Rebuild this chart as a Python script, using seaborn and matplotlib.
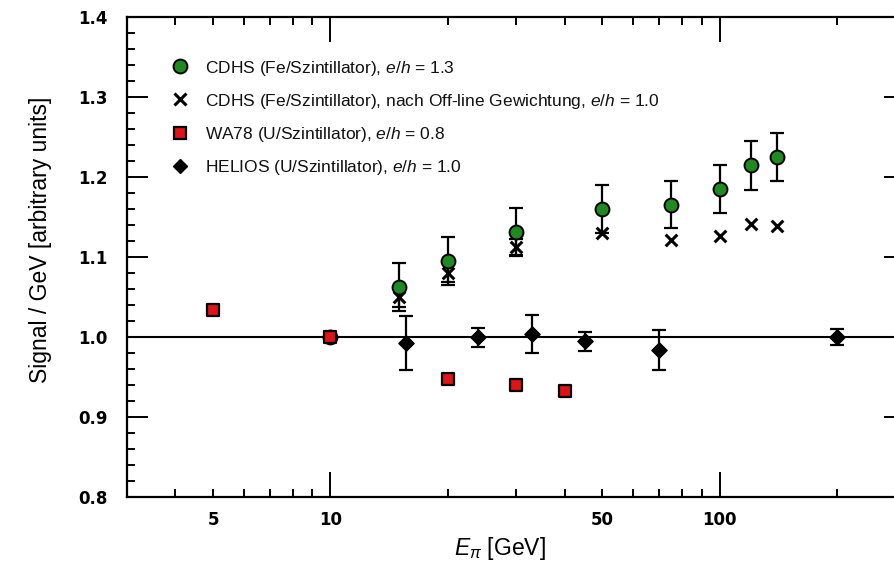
import numpy as np
import pandas as pd
import matplotlib
matplotlib.use("Agg")
import matplotlib.pyplot as plt
import seaborn as sns
from matplotlib.ticker import FixedLocator, FixedFormatter
from matplotlib.lines import Line2D

# ---------------- data ----------------
cdhs_E = [10, 15, 20, 30, 50, 75, 100, 120, 140]
cdhs_S = [1.000, 1.063, 1.096, 1.132, 1.160, 1.166, 1.186, 1.215, 1.226]
cdhs_err = [0.0, 0.030, 0.030, 0.030, 0.030, 0.029, 0.030, 0.031, 0.030]

cdhsw_E = [15, 20, 30, 50, 75, 100, 120, 140]
cdhsw_S = [1.050, 1.081, 1.113, 1.131, 1.122, 1.127, 1.142, 1.139]
cdhsw_err = [0.012, 0.012, 0.010, 0.0, 0.0, 0.0, 0.0, 0.0]

wa78_E = [5, 10, 20, 30, 40]
wa78_S = [1.034, 1.000, 0.948, 0.941, 0.933]

helios_E = [15.6, 24, 33, 45, 70, 200]
helios_S = [0.993, 1.000, 1.004, 0.995, 0.984, 1.000]
helios_err = [0.034, 0.012, 0.024, 0.012, 0.025, 0.010]

labels = [
    r"CDHS (Fe/Szintillator), $e/h$ = 1.3",
    r"CDHS (Fe/Szintillator), nach Off-line Gewichtung, $e/h$ = 1.0",
    r"WA78 (U/Szintillator), $e/h$ = 0.8",
    r"HELIOS (U/Szintillator), $e/h$ = 1.0",
]
xtick_vals = [5, 10, 50, 100]
ytick_vals = [0.8, 0.9, 1.0, 1.1, 1.2, 1.3, 1.4]

GREEN = "#1f8a1f"
RED = "#e01414"

# ---------------- style ----------------
sns.set_theme(style="ticks")
plt.rcParams["font.family"] = ["Liberation Sans", "DejaVu Sans"]
plt.rcParams["mathtext.fontset"] = "custom"
plt.rcParams["mathtext.rm"] = "Liberation Sans"
plt.rcParams["mathtext.it"] = "Liberation Sans:italic"

W, H = 895, 565
fig = plt.figure(figsize=(W / 100, H / 100), dpi=100)
left_px, right_px, top_px, bot_px = 126.7, 905.5, 17.3, 497.3
ax = fig.add_axes([left_px / W, 1 - bot_px / H, (right_px - left_px) / W, (bot_px - top_px) / H])

ax.set_xscale("log")
ax.set_xlim(3, 300)
ax.set_ylim(0.8, 1.4)

# reference line at 1.0
ax.axhline(1.0, color="black", lw=1.5, zorder=1)

# error bars
df_c = pd.DataFrame({"E": cdhs_E, "S": cdhs_S, "err": cdhs_err})
df_c_e = df_c[df_c["err"] > 0]
ax.errorbar(df_c_e["E"], df_c_e["S"], yerr=df_c_e["err"], fmt="none",
            ecolor="black", elinewidth=1.6, capsize=5, capthick=1.6, zorder=2)
df_w = pd.DataFrame({"E": cdhsw_E, "S": cdhsw_S, "err": cdhsw_err})
df_w_e = df_w[df_w["err"] > 0]
ax.errorbar(df_w_e["E"], df_w_e["S"], yerr=df_w_e["err"], fmt="none",
            ecolor="black", elinewidth=1.6, capsize=5, capthick=1.6, zorder=2)
df_h = pd.DataFrame({"E": helios_E, "S": helios_S, "err": helios_err})
ax.errorbar(df_h["E"], df_h["S"], yerr=df_h["err"], fmt="none",
            ecolor="black", elinewidth=1.6, capsize=5, capthick=1.6, zorder=2)

# markers
sns.scatterplot(data=df_w, x="E", y="S", marker="x", s=70, color="black",
                linewidth=2.2, ax=ax, zorder=3, legend=False)
sns.scatterplot(data=df_c, x="E", y="S", marker="o", s=100, color=GREEN,
                edgecolor="black", linewidth=1.4, ax=ax, zorder=4, legend=False)
df_wa = pd.DataFrame({"E": wa78_E, "S": wa78_S})
sns.scatterplot(data=df_wa, x="E", y="S", marker="s", s=85, color=RED,
                edgecolor="black", linewidth=1.6, ax=ax, zorder=5, legend=False)
sns.scatterplot(data=df_h, x="E", y="S", marker="D", s=60, color="black",
                edgecolor="black", linewidth=1.0, ax=ax, zorder=5, legend=False)

# axes styling
for sp in ax.spines.values():
    sp.set_visible(True)
    sp.set_color("black")
    sp.set_linewidth(1.6)

ax.xaxis.set_major_locator(FixedLocator([10, 100]))
ax.xaxis.set_major_formatter(FixedFormatter(["10", "100"]))
minor_x = [4, 5, 6, 7, 8, 9, 20, 30, 40, 50, 60, 70, 80, 90, 200]
ax.xaxis.set_minor_locator(FixedLocator(minor_x))
ax.xaxis.set_minor_formatter(FixedFormatter(["" if v not in xtick_vals else str(v) for v in minor_x]))

ax.yaxis.set_major_locator(FixedLocator(ytick_vals))
ax.set_yticklabels([f"{v:.1f}" for v in ytick_vals])
ax.yaxis.set_minor_locator(FixedLocator(np.arange(0.8, 1.4001, 0.02)))

ax.tick_params(which="both", direction="in", top=True, right=True, color="black", width=1.4)
ax.tick_params(axis="x", which="major", length=18, pad=10)
ax.tick_params(axis="x", which="minor", length=6, pad=10)
ax.tick_params(axis="y", which="major", length=15, pad=14)
ax.tick_params(axis="y", which="minor", length=6)

for lab in ax.get_xticklabels(which="both") + ax.get_yticklabels():
    lab.set_fontfamily("DejaVu Sans")
    lab.set_fontweight("bold")
    lab.set_fontsize(12)
    lab.set_color("black")

ax.set_xlabel(r"$E_\pi$ [GeV]", fontsize=16.5, color="black")
ax.set_ylabel("Signal / GeV [arbitrary units]", fontsize=16.5, color="black")
ax.yaxis.set_label_coords(-(126.7 - 41) / (right_px - left_px), (bot_px - 240) / (bot_px - top_px))
ax.xaxis.set_label_coords((500 - left_px) / (right_px - left_px), -(549 - bot_px) / (bot_px - top_px))
ax.xaxis.label.set_va("center")
ax.yaxis.label.set_va("center")

# legend
handles = [
    Line2D([], [], ls="none", marker="o", ms=10, mfc=GREEN, mec="black", mew=1.4),
    Line2D([], [], ls="none", marker="x", ms=8, color="black", mew=2.2),
    Line2D([], [], ls="none", marker="s", ms=9, mfc=RED, mec="black", mew=1.6),
    Line2D([], [], ls="none", marker="D", ms=7, mfc="black", mec="black"),
]
ax.legend(handles, labels, loc="upper left", bbox_to_anchor=(171.3 / W, 1 - 58.5 / H),
          bbox_transform=fig.transFigure, frameon=False, fontsize=12.5,
          handlelength=1.0, handletextpad=0.94, labelspacing=0.81, borderpad=0,
          borderaxespad=0, labelcolor="#111111")

fig.savefig("out.png", dpi=100)
